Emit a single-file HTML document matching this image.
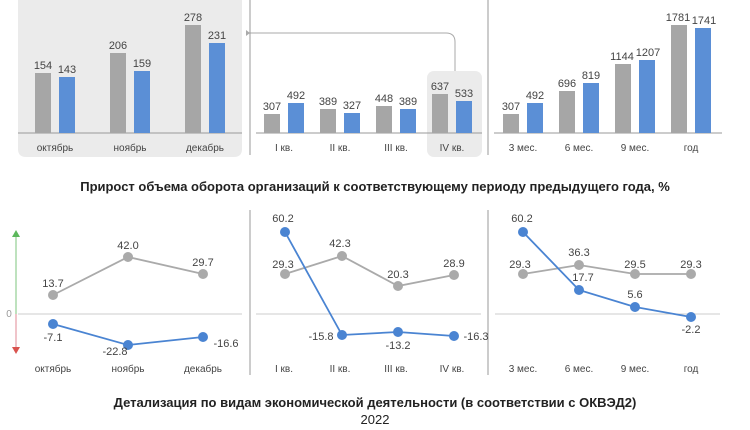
<!DOCTYPE html>
<html><head><meta charset="utf-8"><style>
body{margin:0;background:#fff;}
svg{display:block;font-family:"Liberation Sans","DejaVu Sans",sans-serif;}
.v{font-size:11px;fill:#444;text-anchor:middle}
.c{font-size:10px;fill:#444;text-anchor:middle}
</style></head><body>
<svg width="750" height="430" viewBox="0 0 750 430">
<path d="M18 0H242V149Q242 157 234 157H26Q18 157 18 149Z" fill="#ebebeb"/>
<rect x="427" y="71" width="55" height="86" rx="7" fill="#ebebeb"/>
<path d="M455 71V42Q455 33 446 33H246" fill="none" stroke="#aaa" stroke-width="1"/>
<path d="M250 33L246 30V36Z" fill="#aaa"/>
<line x1="250" y1="0" x2="250" y2="155" stroke="#999"/>
<line x1="488" y1="0" x2="488" y2="155" stroke="#999"/>
<g stroke="#999"><line x1="18" y1="133" x2="242" y2="133"/><line x1="256" y1="133" x2="482" y2="133"/><line x1="494" y1="133" x2="722" y2="133"/></g>
<g fill="#a6a6a6">
<rect x="35" y="73" width="16" height="60"/><rect x="110" y="53" width="16" height="80"/><rect x="185" y="25" width="16" height="108"/>
<rect x="264" y="114" width="16" height="19"/><rect x="320" y="109" width="16" height="24"/><rect x="376" y="106" width="16" height="27"/><rect x="432" y="94" width="16" height="39"/>
<rect x="503" y="114" width="16" height="19"/><rect x="559" y="91" width="16" height="42"/><rect x="615" y="64" width="16" height="69"/><rect x="671" y="25" width="16" height="108"/>
</g>
<g fill="#5b8fd6">
<rect x="59" y="77" width="16" height="56"/><rect x="134" y="71" width="16" height="62"/><rect x="209" y="43" width="16" height="90"/>
<rect x="288" y="103" width="16" height="30"/><rect x="344" y="113" width="16" height="20"/><rect x="400" y="109" width="16" height="24"/><rect x="456" y="101" width="16" height="32"/>
<rect x="527" y="103" width="16" height="30"/><rect x="583" y="83" width="16" height="50"/><rect x="639" y="60" width="16" height="73"/><rect x="695" y="28" width="16" height="105"/>
</g>
<g class="v">
<text x="43" y="69">154</text><text x="67" y="73">143</text><text x="118" y="49">206</text><text x="142" y="67">159</text><text x="193" y="21">278</text><text x="217" y="39">231</text>
<text x="272" y="110">307</text><text x="296" y="99">492</text><text x="328" y="105">389</text><text x="352" y="109">327</text><text x="384" y="102">448</text><text x="408" y="105">389</text><text x="440" y="90">637</text><text x="464" y="97">533</text>
<text x="511" y="110">307</text><text x="535" y="99">492</text><text x="567" y="87">696</text><text x="591" y="79">819</text><text x="622" y="60">1144</text><text x="648" y="56">1207</text><text x="678" y="21">1781</text><text x="704" y="24">1741</text>
</g>
<g class="c">
<text x="55" y="151">октябрь</text><text x="130" y="151">ноябрь</text><text x="205" y="151">декабрь</text>
<text x="284" y="151">I кв.</text><text x="340" y="151">II кв.</text><text x="396" y="151">III кв.</text><text x="452" y="151">IV кв.</text>
<text x="523" y="151">3 мес.</text><text x="579" y="151">6 мес.</text><text x="635" y="151">9 мес.</text><text x="691" y="151">год</text>
</g>
<text x="375" y="191" text-anchor="middle" font-size="13" font-weight="bold" fill="#222">Прирост объема оборота организаций к соответствующему периоду предыдущего года, %</text>
<line x1="250" y1="210" x2="250" y2="375" stroke="#999"/>
<line x1="488" y1="210" x2="488" y2="375" stroke="#999"/>
<g stroke="#ccc"><line x1="18" y1="314" x2="242" y2="314"/><line x1="256" y1="314" x2="481" y2="314"/><line x1="495" y1="314" x2="720" y2="314"/></g>
<text x="9" y="317" font-size="10" fill="#999" text-anchor="middle">0</text>
<line x1="16" y1="234" x2="16" y2="314" stroke="#7cc47c"/><path d="M16 230L12 237H20Z" fill="#5cb85c"/>
<line x1="16" y1="314" x2="16" y2="350" stroke="#e08a95"/><path d="M16 354L12 347H20Z" fill="#d9534f"/>
<g fill="none" stroke-width="1.8">
<polyline points="53,295 128,257 203,274" stroke="#aaa"/>
<polyline points="53,324 128,345 203,337" stroke="#4a84d2"/>
<polyline points="285,274 342,256 398,286 454,275" stroke="#aaa"/>
<polyline points="285,232 342,335 398,332 454,336" stroke="#4a84d2"/>
<polyline points="523,274 579,265 635,274 691,274" stroke="#aaa"/>
<polyline points="523,232 579,290 635,307 691,317" stroke="#4a84d2"/>
</g>
<g fill="#aaa"><circle cx="53" cy="295" r="5"/><circle cx="128" cy="257" r="5"/><circle cx="203" cy="274" r="5"/><circle cx="285" cy="274" r="5"/><circle cx="342" cy="256" r="5"/><circle cx="398" cy="286" r="5"/><circle cx="454" cy="275" r="5"/><circle cx="523" cy="274" r="5"/><circle cx="579" cy="265" r="5"/><circle cx="635" cy="274" r="5"/><circle cx="691" cy="274" r="5"/></g>
<g fill="#4a84d2"><circle cx="53" cy="324" r="5"/><circle cx="128" cy="345" r="5"/><circle cx="203" cy="337" r="5"/><circle cx="285" cy="232" r="5"/><circle cx="342" cy="335" r="5"/><circle cx="398" cy="332" r="5"/><circle cx="454" cy="336" r="5"/><circle cx="523" cy="232" r="5"/><circle cx="579" cy="290" r="5"/><circle cx="635" cy="307" r="5"/><circle cx="691" cy="317" r="5"/></g>
<g class="v">
<text x="53" y="287">13.7</text><text x="128" y="249">42.0</text><text x="203" y="266">29.7</text>
<text x="53" y="341">-7.1</text><text x="115" y="355">-22.8</text><text x="226" y="347">-16.6</text>
<text x="283" y="222">60.2</text><text x="283" y="268">29.3</text><text x="340" y="247">42.3</text><text x="398" y="278">20.3</text><text x="454" y="267">28.9</text>
<text x="321" y="340">-15.8</text><text x="398" y="349">-13.2</text><text x="476" y="340">-16.3</text>
<text x="522" y="222">60.2</text><text x="520" y="268">29.3</text><text x="579" y="256">36.3</text><text x="583" y="281">17.7</text><text x="635" y="268">29.5</text><text x="635" y="298">5.6</text><text x="691" y="268">29.3</text><text x="691" y="333">-2.2</text>
</g>
<g class="c">
<text x="53" y="372">октябрь</text><text x="128" y="372">ноябрь</text><text x="203" y="372">декабрь</text>
<text x="284" y="372">I кв.</text><text x="340" y="372">II кв.</text><text x="396" y="372">III кв.</text><text x="452" y="372">IV кв.</text>
<text x="523" y="372">3 мес.</text><text x="579" y="372">6 мес.</text><text x="635" y="372">9 мес.</text><text x="691" y="372">год</text>
</g>
<text x="375" y="407" text-anchor="middle" font-size="13" font-weight="bold" fill="#222">Детализация по видам экономической деятельности (в соответствии с ОКВЭД2)</text>
<text x="375" y="424" text-anchor="middle" font-size="13" fill="#222">2022</text>
</svg>
</body></html>
